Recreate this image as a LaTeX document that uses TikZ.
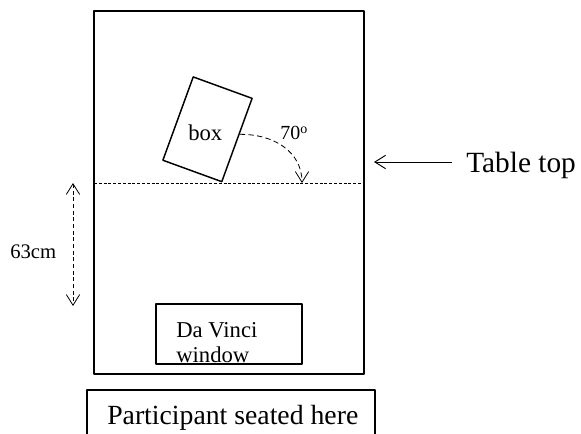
\documentclass[tikz,border=0pt]{standalone}
\usepackage{fontspec}
\setmainfont{Liberation Serif}
\usetikzlibrary{arrows.meta,calc}
\begin{document}
\begin{tikzpicture}[x=0.75pt, y=-0.75pt, line join=round, >={Straight Barb[length=8pt,width=10pt]},
	lbl/.style={inner sep=0pt, anchor=base west},
	edge/.style={line width=1.1pt}]
	\useasboundingbox (0,0) rectangle (581,434);
	\clip (0,0) rectangle (581,434);
	% table, window and seat
	\draw[edge] (94,11) rectangle (364,374);
	\draw[line width=0.9pt] (156,304) rectangle (302,364);
	\draw[edge] (87,390) rectangle (375,460);
	% front edge of the table top
	\draw[line width=0.5pt, dash pattern=on 2.2pt off 1.4pt] (94,183) -- (364,183);
	% tilted box
	\node[draw, edge, rotate=-20, minimum width=47pt, minimum height=66.5pt, inner sep=0pt] (box) at (207.5,129.3) {};
	\node[lbl, font=\fontsize{17}{20}\selectfont] (boxlabel) at (188,141) {box};
	\coordinate (mark) at (302,183);
	\draw[->, line width=0.6pt, dash pattern=on 4pt off 2.5pt] ($(box.north east)!0.43!(box.south east)$) .. controls (274,134) and (302,152) .. (mark);
	\node[lbl, font=\fontsize{15}{18}\selectfont] (angle) at (280,140) {70\textsuperscript{o}};
	% pointer to the table top
	\node[lbl, font=\fontsize{22}{26}\selectfont] (tabletop) at (466,173) {Table top};
	\coordinate (tail) at (452,162);
	\coordinate (tip) at (374,162);
	\draw[->, line width=0.7pt] (tail) -- (tip);
	% distance to the window
	\coordinate (spantop) at (73,183);
	\coordinate (spanbot) at (73,306);
	\draw[<->, line width=0.6pt, dash pattern=on 3pt off 2pt] (spantop) -- (spanbot);
	\node[lbl, font=\fontsize{15.5}{18}\selectfont] (span) at (10,259) {63cm};
	\node[lbl, align=left, font=\fontsize{17}{18.75}\selectfont] (window) at (176,362) {Da Vinci\\window};
	\node[lbl, font=\fontsize{20.8}{24}\selectfont] (seat) at (107,424) {Participant seated here};
\end{tikzpicture}
\end{document}
